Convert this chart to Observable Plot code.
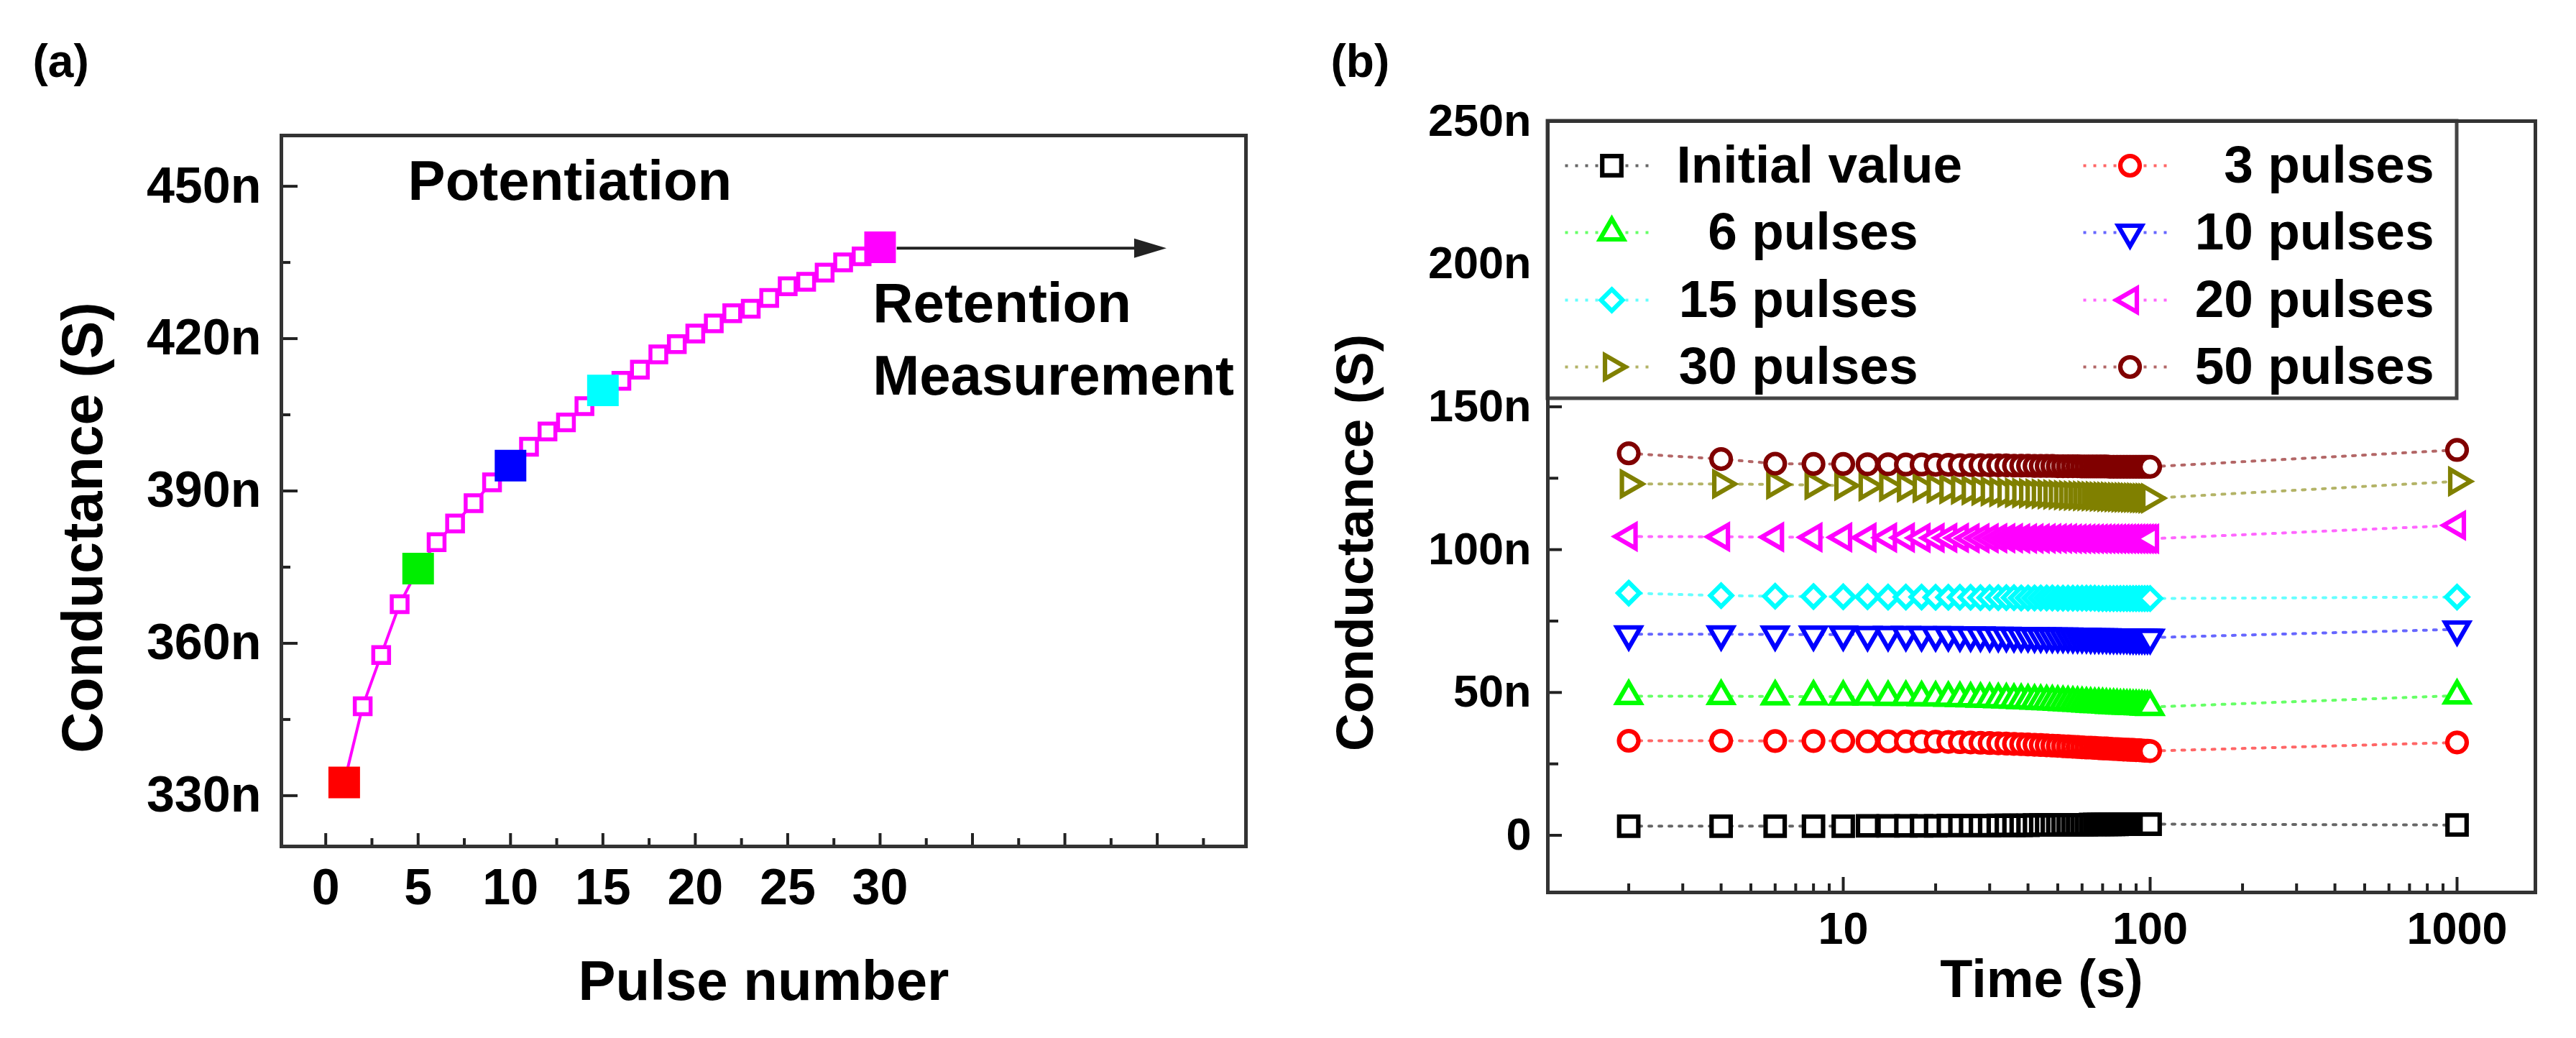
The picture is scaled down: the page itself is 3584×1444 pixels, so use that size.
<!DOCTYPE html>
<html>
<head>
<meta charset="utf-8">
<script src="https://cdn.jsdelivr.net/npm/d3@7"></script>
<script src="https://cdn.jsdelivr.net/npm/@observablehq/plot@0.6"></script>
<style>
html, body { margin: 0; padding: 0; background: #fff; }
#wrap { position: relative; width: 3584px; height: 1444px; overflow: hidden; background: #fff; }
#pa { position: absolute; left: 0; top: 0; width: 1792px; height: 1444px; }
#pb { position: absolute; left: 1792px; top: 0; width: 1792px; height: 1444px; }
</style>
</head>
<body>
<div id="wrap"><div id="pa"></div><div id="pb"></div></div>
<script>
// ================= DATA =================
// Panel (a): potentiation
const pulseNumber = [1,2,3,4,5,6,7,8,9,10,11,12,13,14,15,16,17,18,19,20,21,22,23,24,25,26,27,28,29,30];
const pulseConductance = [332.6,347.6,357.7,367.7,374.7,379.9,383.6,387.6,391.7,395.0,398.7,401.7,403.5,406.7,409.8,411.7,413.9,416.9,418.9,421.0,423.0,425.0,425.9,428.0,430.3,431.2,433.0,435.0,436.2,438.0];
const highlightPulse = [1,5,10,15,30];
const pulseTickLabels = [0,5,10,15,20,25,30];
const pulseMajorTicks = [0,5,10,15,20,25,30,35,40,45];
const pulseMinorTicks = [2.5,7.5,12.5,17.5,22.5,27.5,32.5,37.5,42.5,47.5];
const condTickA = [330,360,390,420,450];
const condMinorA = [345,375,405,435];

// Panel (b): retention
const retentionTime = [2,4,6,8,10,12,14,16,18,20,22,24,26,28,30,32,34,36,38,40,42,44,46,48,50,52,54,56,58,60,62,64,66,68,70,72,74,76,78,80,82,84,86,88,90,92,94,96,98,100,1000];
const seriesNames = ["Initial value","3 pulses","6 pulses","10 pulses","15 pulses","20 pulses","30 pulses","50 pulses"];
const gInitial = [3.2,3.2,3.2,3.2,3.2,3.3,3.3,3.3,3.3,3.3, 3.4,3.4,3.4,3.4,3.4,3.5,3.5,3.5,3.5,3.5, 3.6,3.6,3.6,3.6,3.6,3.7,3.7,3.7,3.7,3.7, 3.7,3.8,3.8,3.8,3.8,3.8,3.8,3.8,3.8,3.9, 3.9,3.9,3.9,3.9,3.9,3.9,3.9,3.9,3.9,3.9, 3.6];
const g3 = [33.1,33.1,33.0,33.0,33.0,32.9,32.9,32.9,32.8,32.8, 32.7,32.6,32.5,32.4,32.3,32.2,32.1,32.0,31.9,31.8, 31.7,31.6,31.5,31.4,31.3,31.2,31.1,31.0,30.9,30.8, 30.7,30.7,30.6,30.5,30.4,30.4,30.3,30.2,30.2,30.1, 30.0,30.0,29.9,29.9,29.8,29.8,29.7,29.6,29.6,29.5, 32.5];
const g6 = [48.7,48.7,48.6,48.6,48.5,48.5,48.4,48.4,48.3,48.2, 48.1,48.0,47.9,47.8,47.7,47.6,47.5,47.4,47.3,47.2, 47.1,47.0,46.9,46.8,46.7,46.6,46.5,46.4,46.3,46.2, 46.1,46.0,45.9,45.9,45.8,45.7,45.6,45.6,45.5,45.4, 45.4,45.3,45.3,45.2,45.2,45.1,45.1,45.0,45.0,44.9, 48.9];
const g10 = [70.4,70.4,70.3,70.3,70.3,70.2,70.2,70.2,70.1,70.1, 70.1,70.0,70.0,70.0,69.9,69.9,69.9,69.8,69.8,69.8, 69.7,69.7,69.7,69.6,69.6,69.6,69.6,69.5,69.5,69.5, 69.5,69.4,69.4,69.4,69.4,69.4,69.3,69.3,69.3,69.3, 69.3,69.3,69.2,69.2,69.2,69.2,69.2,69.2,69.2,69.2, 72.1];
const g15 = [84.8,83.9,83.7,83.6,83.5,83.5,83.4,83.4,83.4,83.3, 83.3,83.3,83.3,83.2,83.2,83.2,83.2,83.2,83.1,83.1, 83.1,83.1,83.1,83.1,83.0,83.0,83.0,83.0,83.0,83.0, 83.0,83.0,83.0,82.9,82.9,82.9,82.9,82.9,82.9,82.9, 82.9,82.9,82.9,82.9,82.9,82.9,82.9,82.9,82.9,82.9, 83.4];
const g20 = [104.6,104.5,104.4,104.3,104.3,104.2,104.2,104.2,104.1,104.1, 104.1,104.1,104.0,104.0,104.0,104.0,104.0,104.0,103.9,103.9, 103.9,103.9,103.9,103.9,103.9,103.9,103.9,103.8,103.8,103.8, 103.8,103.8,103.8,103.8,103.8,103.8,103.8,103.8,103.8,103.8, 103.8,103.8,103.8,103.8,103.8,103.8,103.8,103.8,103.8,103.8, 108.5];
const g30 = [123.0,123.0,122.8,122.6,122.4,122.2,122.0,121.8,121.6,121.4, 121.2,121.0,120.8,120.6,120.4,120.2,120.0,119.9,119.8,119.7, 119.6,119.5,119.4,119.3,119.2,119.1,119.0,118.9,118.9,118.8, 118.8,118.7,118.7,118.6,118.6,118.5,118.5,118.4,118.4,118.3, 118.3,118.3,118.2,118.2,118.2,118.1,118.1,118.1,118.0,118.0, 123.9];
const g50 = [133.7,131.7,130.1,130.0,130.0,129.9,129.9,129.8,129.8,129.7, 129.7,129.6,129.6,129.6,129.5,129.5,129.5,129.4,129.4,129.4, 129.3,129.3,129.3,129.3,129.2,129.2,129.2,129.2,129.2,129.1, 129.1,129.1,129.1,129.1,129.1,129.1,129.0,129.0,129.0,129.0, 129.0,129.0,129.0,129.0,129.0,129.0,129.0,129.0,129.0,129.0, 134.9];
const timeTickLabels = [10,100,1000];
const timeMinorTicks = [2,3,4,5,6,7,8,9,20,30,40,50,60,70,80,90,200,300,400,500,600,700,800,900];
const condTickB = [0,50,100,150,200,250];
const condMinorB = [25,75,125,175,225];

// ================= STYLES =================
const FONT = "'Liberation Sans', Arial, Helvetica, sans-serif";
const INK = "#222";
const highlightColor = ["#ff0000","#00ee00","#0000ff","#00ffff","#ff00ff"];
const seriesColor = ["#000000","#ff0000","#00ff00","#0000ff","#00ffff","#ff00ff","#808000","#800000"];
const seriesSymbol = ["square","circle","triangle","triangle","diamond2","triangle","triangle","circle"];
const seriesRotate = [0,0,0,180,0,-90,90,0];
const seriesR = [15,13.5,12.2,12.2,13.5,12.2,12.2,13.5];
const markerStroke = 6.2;

// ================= PANEL (a) =================
const A = {width: 1792, height: 1444, ml: 391, mr: 59, mt: 188, mb: 267};
const frameWA = A.width - A.ml - A.mr;
const frameHA = A.height - A.mt - A.mb;
const potData = pulseNumber.map((p, i) => ({p, g: pulseConductance[i]}));
const hiData = highlightPulse.map((p, i) => ({p, g: pulseConductance[pulseNumber.indexOf(p)], c: highlightColor[i]}));
const lastIdx = pulseNumber.length - 1;
const arrowA = [{x1: pulseNumber[lastIdx] + 0.9, x2: 44.5, xh: 45.5, y: pulseConductance[lastIdx] - 0.2}];
const annotA = [
  {text: "Potentiation", x: 4.45, y: 447.4},
  {text: "Retention", x: 29.6, y: 423.3},
  {text: "Measurement", x: 29.6, y: 409.0}
];
const arrowHead = {
  draw(ctx) { ctx.moveTo(0, 0); ctx.lineTo(-45, -13.5); ctx.lineTo(-45, 13.5); ctx.closePath(); }
};

const plotA = Plot.plot({
  width: A.width, height: A.height,
  marginLeft: A.ml, marginRight: A.mr, marginTop: A.mt, marginBottom: A.mb,
  style: {fontFamily: FONT, fontWeight: "bold", fontSize: "70px", background: "white", color: "#000", maxWidth: "none"},
  x: {domain: [-2.4, 49.8]},
  y: {domain: [320, 460]},
  color: {type: "identity"},
  marks: [
    Plot.tickX(pulseMajorTicks, {x: d => d, insetTop: frameHA - 18, stroke: INK, strokeWidth: 4}),
    Plot.tickX(pulseMinorTicks, {x: d => d, insetTop: frameHA - 11, stroke: INK, strokeWidth: 4}),
    Plot.tickY(condTickA, {y: d => d, insetRight: frameWA - 23, stroke: INK, strokeWidth: 4}),
    Plot.tickY(condMinorA, {y: d => d, insetRight: frameWA - 13, stroke: INK, strokeWidth: 4}),
    Plot.axisX(pulseTickLabels, {tickSize: 0, tickPadding: 31, fontSize: 70, fontWeight: "bold", label: null, tickFormat: d => String(d)}),
    Plot.axisY(condTickA, {tickSize: 0, tickPadding: 28, fontSize: 70, fontWeight: "bold", label: null, tickFormat: d => d + "n"}),
    Plot.line(potData, {x: "p", y: "g", stroke: "#ff00ff", strokeWidth: 4}),
    Plot.dot(potData, {x: "p", y: "g", symbol: "square", r: 12.4, stroke: "#ff00ff", strokeWidth: 5.5, fill: "white"}),
    Plot.dot(hiData, {x: "p", y: "g", symbol: "square", r: 24.8, fill: "c", stroke: null}),
    Plot.link(arrowA, {x1: "x1", y1: "y", x2: "x2", y2: "y", stroke: INK, strokeWidth: 4}),
    Plot.dot(arrowA, {x: "xh", y: "y", symbol: arrowHead, r: 10, fill: INK, stroke: null}),
    Plot.text(annotA, {x: "x", y: "y", text: "text", textAnchor: "start", lineAnchor: "bottom", fontSize: 78, fontWeight: "bold", fill: "#000"}),
    Plot.text(["Conductance (S)"], {frameAnchor: "left", rotate: -90, dx: -250, dy: 51, lineAnchor: "bottom", textAnchor: "middle", fontSize: 79, fontWeight: "bold", fill: "#000"}),
    Plot.text(["Pulse number"], {frameAnchor: "bottom", dy: 213, lineAnchor: "bottom", textAnchor: "middle", fontSize: 78, fontWeight: "bold", fill: "#000"}),
    Plot.text(["(a)"], {frameAnchor: "top-left", dx: -346, dy: -82, lineAnchor: "bottom", textAnchor: "start", fontSize: 64, fontWeight: "bold", fill: "#000"}),
    Plot.frame({stroke: "#333", strokeWidth: 5})
  ]
});
document.getElementById("pa").appendChild(plotA);

// ================= PANEL (b) =================
const B = {width: 1792, height: 1444, ml: 361, mr: 57, mt: 168, mb: 203};
const frameWB = B.width - B.ml - B.mr;
const frameHB = B.height - B.mt - B.mb;
const xDomainB = [1.09, 1800];
const yDomainB = [-20, 250];
const xsB = d3.scaleLog().domain(xDomainB).range([B.ml, B.width - B.mr]);
const ysB = d3.scaleLinear().domain(yDomainB).range([B.height - B.mb, B.mt]);

const seriesValues = [gInitial, g3, g6, g10, g15, g20, g30, g50];
const retData = seriesValues.map((vals, s) => retentionTime.map((t, i) => ({t, g: vals[i], s})));

// legend layout (pixel positions inside panel, converted to data units)
const legendRowsPx = [230, 323, 417, 510];
const legendCols = [{x1: 385, x2: 511, xm: 450, xt: 876}, {x1: 1106, x2: 1231, xm: 1171, xt: 1594}];
const legendItems = seriesNames.map((name, s) => {
  const col = legendCols[s % 2];
  const row = Math.floor(s / 2);
  return {name, s,
    x1: xsB.invert(col.x1), x2: xsB.invert(col.x2), xm: xsB.invert(col.xm),
    xt: xsB.invert(s === 0 ? 540 : col.xt), anchor: s === 0 ? "start" : "end",
    y: ysB.invert(legendRowsPx[row])};
});
const legendBox = [{x1: xDomainB[0], x2: xsB.invert(1626), y1: ysB.invert(554), y2: yDomainB[1]}];

const marksB = [
  Plot.tickX(timeTickLabels, {x: d => d, insetTop: frameHB - 21, stroke: INK, strokeWidth: 4}),
  Plot.tickX(timeMinorTicks, {x: d => d, insetTop: frameHB - 12, stroke: INK, strokeWidth: 4}),
  Plot.tickY(condTickB, {y: d => d, insetRight: frameWB - 20, stroke: INK, strokeWidth: 4}),
  Plot.tickY(condMinorB, {y: d => d, insetRight: frameWB - 15, stroke: INK, strokeWidth: 4}),
  Plot.axisX(timeTickLabels, {tickSize: 0, tickPadding: 27, fontSize: 63, fontWeight: "bold", label: null, tickFormat: d => String(d)}),
  Plot.axisY(condTickB, {tickSize: 0, tickPadding: 23, fontSize: 63, fontWeight: "bold", label: null, tickFormat: d => d === 0 ? "0" : d + "n"})
];
retData.forEach((rows, s) => {
  marksB.push(Plot.line(rows, {x: "t", y: "g", stroke: seriesColor[s], strokeOpacity: 0.6, strokeWidth: 4, strokeDasharray: "4,10"}));
});
retData.forEach((rows, s) => {
  marksB.push(Plot.dot(rows, {x: "t", y: "g", symbol: seriesSymbol[s], rotate: seriesRotate[s], r: seriesR[s], stroke: seriesColor[s], strokeWidth: markerStroke, fill: "white"}));
});
marksB.push(Plot.rect(legendBox, {x1: "x1", x2: "x2", y1: "y1", y2: "y2", fill: "white", stroke: "#444", strokeWidth: 5}));
legendItems.forEach((it) => {
  const s = it.s;
  marksB.push(Plot.link([it], {x1: "x1", x2: "x2", y1: "y", y2: "y", stroke: seriesColor[s], strokeOpacity: 0.6, strokeWidth: 4, strokeDasharray: "4,10"}));
  marksB.push(Plot.dot([it], {x: "xm", y: "y", symbol: seriesSymbol[s], rotate: seriesRotate[s], r: seriesR[s], stroke: seriesColor[s], strokeWidth: markerStroke, fill: "white"}));
  marksB.push(Plot.text([it], {x: "xt", y: "y", text: "name", textAnchor: it.anchor, lineAnchor: "middle", fontSize: 73, fontWeight: "bold", fill: "#000"}));
});
marksB.push(
  Plot.text(["Conductance (S)"], {frameAnchor: "left", rotate: -90, dx: -244, dy: 50, lineAnchor: "bottom", textAnchor: "middle", fontSize: 73, fontWeight: "bold", fill: "#000"}),
  Plot.text(["Time (s)"], {frameAnchor: "bottom", dy: 145, lineAnchor: "bottom", textAnchor: "middle", fontSize: 74, fontWeight: "bold", fill: "#000"}),
  Plot.text(["(b)"], {frameAnchor: "top-left", dx: -302, dy: -62, lineAnchor: "bottom", textAnchor: "start", fontSize: 64, fontWeight: "bold", fill: "#000"}),
  Plot.frame({stroke: "#333", strokeWidth: 5})
);

const plotB = Plot.plot({
  width: B.width, height: B.height,
  marginLeft: B.ml, marginRight: B.mr, marginTop: B.mt, marginBottom: B.mb,
  style: {fontFamily: FONT, fontWeight: "bold", fontSize: "63px", background: "white", color: "#000", maxWidth: "none"},
  x: {type: "log", domain: xDomainB},
  y: {domain: yDomainB},
  color: {type: "identity"},
  marks: marksB
});
document.getElementById("pb").appendChild(plotB);
</script>
</body>
</html>
